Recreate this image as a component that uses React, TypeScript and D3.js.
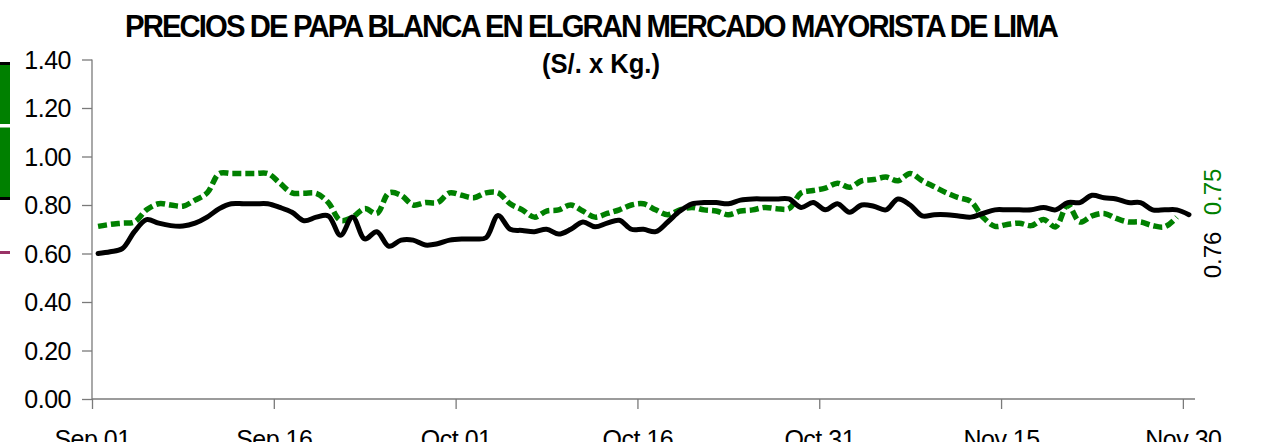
import { useEffect, useRef } from "react";
import * as d3 from "d3";

// daily prices, Sep 01 .. Nov 30
const blackPrices = [
  0.600, 0.607, 0.620, 0.690, 0.740, 0.725, 0.715, 0.713, 0.725, 0.750,
  0.785, 0.805, 0.805, 0.805, 0.805, 0.790, 0.770, 0.735, 0.750, 0.755,
  0.675, 0.750, 0.660, 0.690, 0.630, 0.655, 0.655, 0.635, 0.640, 0.655,
  0.660, 0.660, 0.665, 0.757, 0.700, 0.695, 0.690, 0.700, 0.680, 0.700,
  0.730, 0.710, 0.725, 0.737, 0.700, 0.700, 0.690, 0.730, 0.775, 0.805,
  0.810, 0.810, 0.805, 0.820, 0.825, 0.825, 0.825, 0.825, 0.790, 0.810,
  0.780, 0.805, 0.770, 0.800, 0.795, 0.780, 0.825, 0.800, 0.755, 0.760,
  0.760, 0.755, 0.750, 0.765, 0.780, 0.780, 0.780, 0.780, 0.790, 0.780,
  0.810, 0.810, 0.840, 0.830, 0.825, 0.810, 0.810, 0.780, 0.780, 0.780,
  0.760,
];

const greenPrices = [
  0.712, 0.720, 0.725, 0.730, 0.780, 0.805, 0.800, 0.795, 0.820, 0.850,
  0.930, 0.930, 0.930, 0.930, 0.930, 0.890, 0.850, 0.848, 0.848, 0.810,
  0.737, 0.750, 0.785, 0.765, 0.850, 0.840, 0.800, 0.810, 0.810, 0.850,
  0.840, 0.830, 0.850, 0.850, 0.805, 0.780, 0.750, 0.775, 0.780, 0.800,
  0.775, 0.750, 0.765, 0.780, 0.800, 0.805, 0.780, 0.760, 0.780, 0.790,
  0.780, 0.775, 0.760, 0.775, 0.780, 0.790, 0.785, 0.785, 0.850, 0.860,
  0.870, 0.890, 0.873, 0.900, 0.905, 0.915, 0.900, 0.930, 0.900, 0.875,
  0.850, 0.830, 0.815, 0.750, 0.712, 0.720, 0.725, 0.715, 0.740, 0.710,
  0.800, 0.730, 0.755, 0.765, 0.745, 0.730, 0.730, 0.715, 0.710, 0.750,
];

const yTicks = [0, 0.2, 0.4, 0.6, 0.8, 1.0, 1.2, 1.4];
const xTickDays = [0, 15, 30, 45, 60, 75, 90];
const xTickLabels = ["Sep 01", "Sep 16", "Oct 01", "Oct 16", "Oct 31", "Nov 15", "Nov 30"];
const lastBlackLabel = "0.76";
const lastGreenLabel = "0.75";

const start = Date.UTC(2008, 8, 1);
const DAY = 864e5;
const dayDate = (d: number) => new Date(start + d * DAY);

const FONT = "'Liberation Sans', Arial, sans-serif";
const GREEN = "#008000";

const App = () => {
  const svgRef = useRef<SVGSVGElement>(null);

  useEffect(() => {
    const width = 1278, height = 442;
    const svg = d3.select(svgRef.current);
    svg.selectAll("*").remove();
    svg.attr("width", width).attr("height", height);

    const x = d3.scaleUtc().domain([dayDate(0), dayDate(91)]).range([92, 1195]);
    const y = d3.scaleLinear().domain([0, 1.4]).range([399, 59.5]);

    // legend remnants at the left edge
    svg.append("rect").attr("x", 0).attr("y", 62).attr("width", 10).attr("height", 138).attr("fill", "#000");
    svg.append("rect").attr("x", 0).attr("y", 65).attr("width", 10).attr("height", 132).attr("fill", GREEN);
    svg.append("rect").attr("x", 0).attr("y", 124).attr("width", 10).attr("height", 3.5).attr("fill", "#fff");
    svg.append("rect").attr("x", 0).attr("y", 251).attr("width", 10).attr("height", 3).attr("fill", "#993366");

    // title
    svg.append("text")
      .attr("x", 125).attr("y", 37)
      .attr("textLength", 932).attr("lengthAdjust", "spacingAndGlyphs")
      .attr("font-family", FONT).attr("font-weight", "bold").attr("font-size", 31)
      .attr("letter-spacing", -2)
      .text("PRECIOS DE PAPA BLANCA EN ELGRAN MERCADO MAYORISTA DE LIMA");
    svg.append("text")
      .attr("x", 542).attr("y", 73)
      .attr("textLength", 118).attr("lengthAdjust", "spacingAndGlyphs")
      .attr("font-family", FONT).attr("font-weight", "bold").attr("font-size", 27)
      .text("(S/. x Kg.)");

    // axes
    const axisColor = "#7a7a7a";
    const yAxis = svg.append("g").attr("transform", "translate(92,0)")
      .call(d3.axisLeft(y).tickValues(yTicks).tickSize(10).tickFormat(d3.format(".2f")));
    const xAxis = svg.append("g").attr("transform", "translate(0,399)")
      .call(d3.axisBottom(x).tickValues(xTickDays.map(dayDate)).tickSize(10)
        .tickFormat((_, i) => xTickLabels[i]));

    [yAxis, xAxis].forEach(g => {
      g.select(".domain").attr("stroke", axisColor).attr("stroke-width", 1.3);
      g.selectAll(".tick line").attr("stroke", axisColor).attr("stroke-width", 1.3);
      g.selectAll("text").attr("font-family", FONT).attr("font-size", 25).attr("fill", "#000")
        .attr("letter-spacing", -0.5);
    });
    yAxis.select(".domain").attr("d", "M0,399V59.5");
    xAxis.select(".domain").attr("d", "M92,0H1195");
    yAxis.selectAll(".tick text").attr("x", -21).attr("dy", "0.34em");
    xAxis.selectAll(".tick text").attr("y", 31).attr("dy", "0.71em");

    // lines, each point centred on its day
    const line = d3.line<number>()
      .x((_, i) => x(new Date(start + (i + 0.5) * DAY)))
      .y(d => y(d))
      .curve(d3.curveCatmullRom);

    svg.append("path").datum(greenPrices)
      .attr("d", line)
      .attr("fill", "none").attr("stroke", GREEN).attr("stroke-width", 5.5)
      .attr("stroke-dasharray", "9 4");

    svg.append("path").datum(blackPrices)
      .attr("d", line)
      .attr("fill", "none").attr("stroke", "#000").attr("stroke-width", 5)
      .attr("stroke-linejoin", "round").attr("stroke-linecap", "round");

    // last value labels, rotated
    svg.append("text")
      .attr("transform", "translate(1221,255) rotate(-90)")
      .attr("text-anchor", "middle")
      .attr("font-family", FONT).attr("font-size", 24).attr("fill", "#000")
      .text(lastBlackLabel);
    svg.append("text")
      .attr("transform", "translate(1221,192) rotate(-90)")
      .attr("text-anchor", "middle")
      .attr("font-family", FONT).attr("font-size", 24).attr("fill", GREEN)
      .text(lastGreenLabel);
  }, []);

  return <svg ref={svgRef} style={{ position: "absolute", left: 0, top: 0 }} />;
};

export default App;
